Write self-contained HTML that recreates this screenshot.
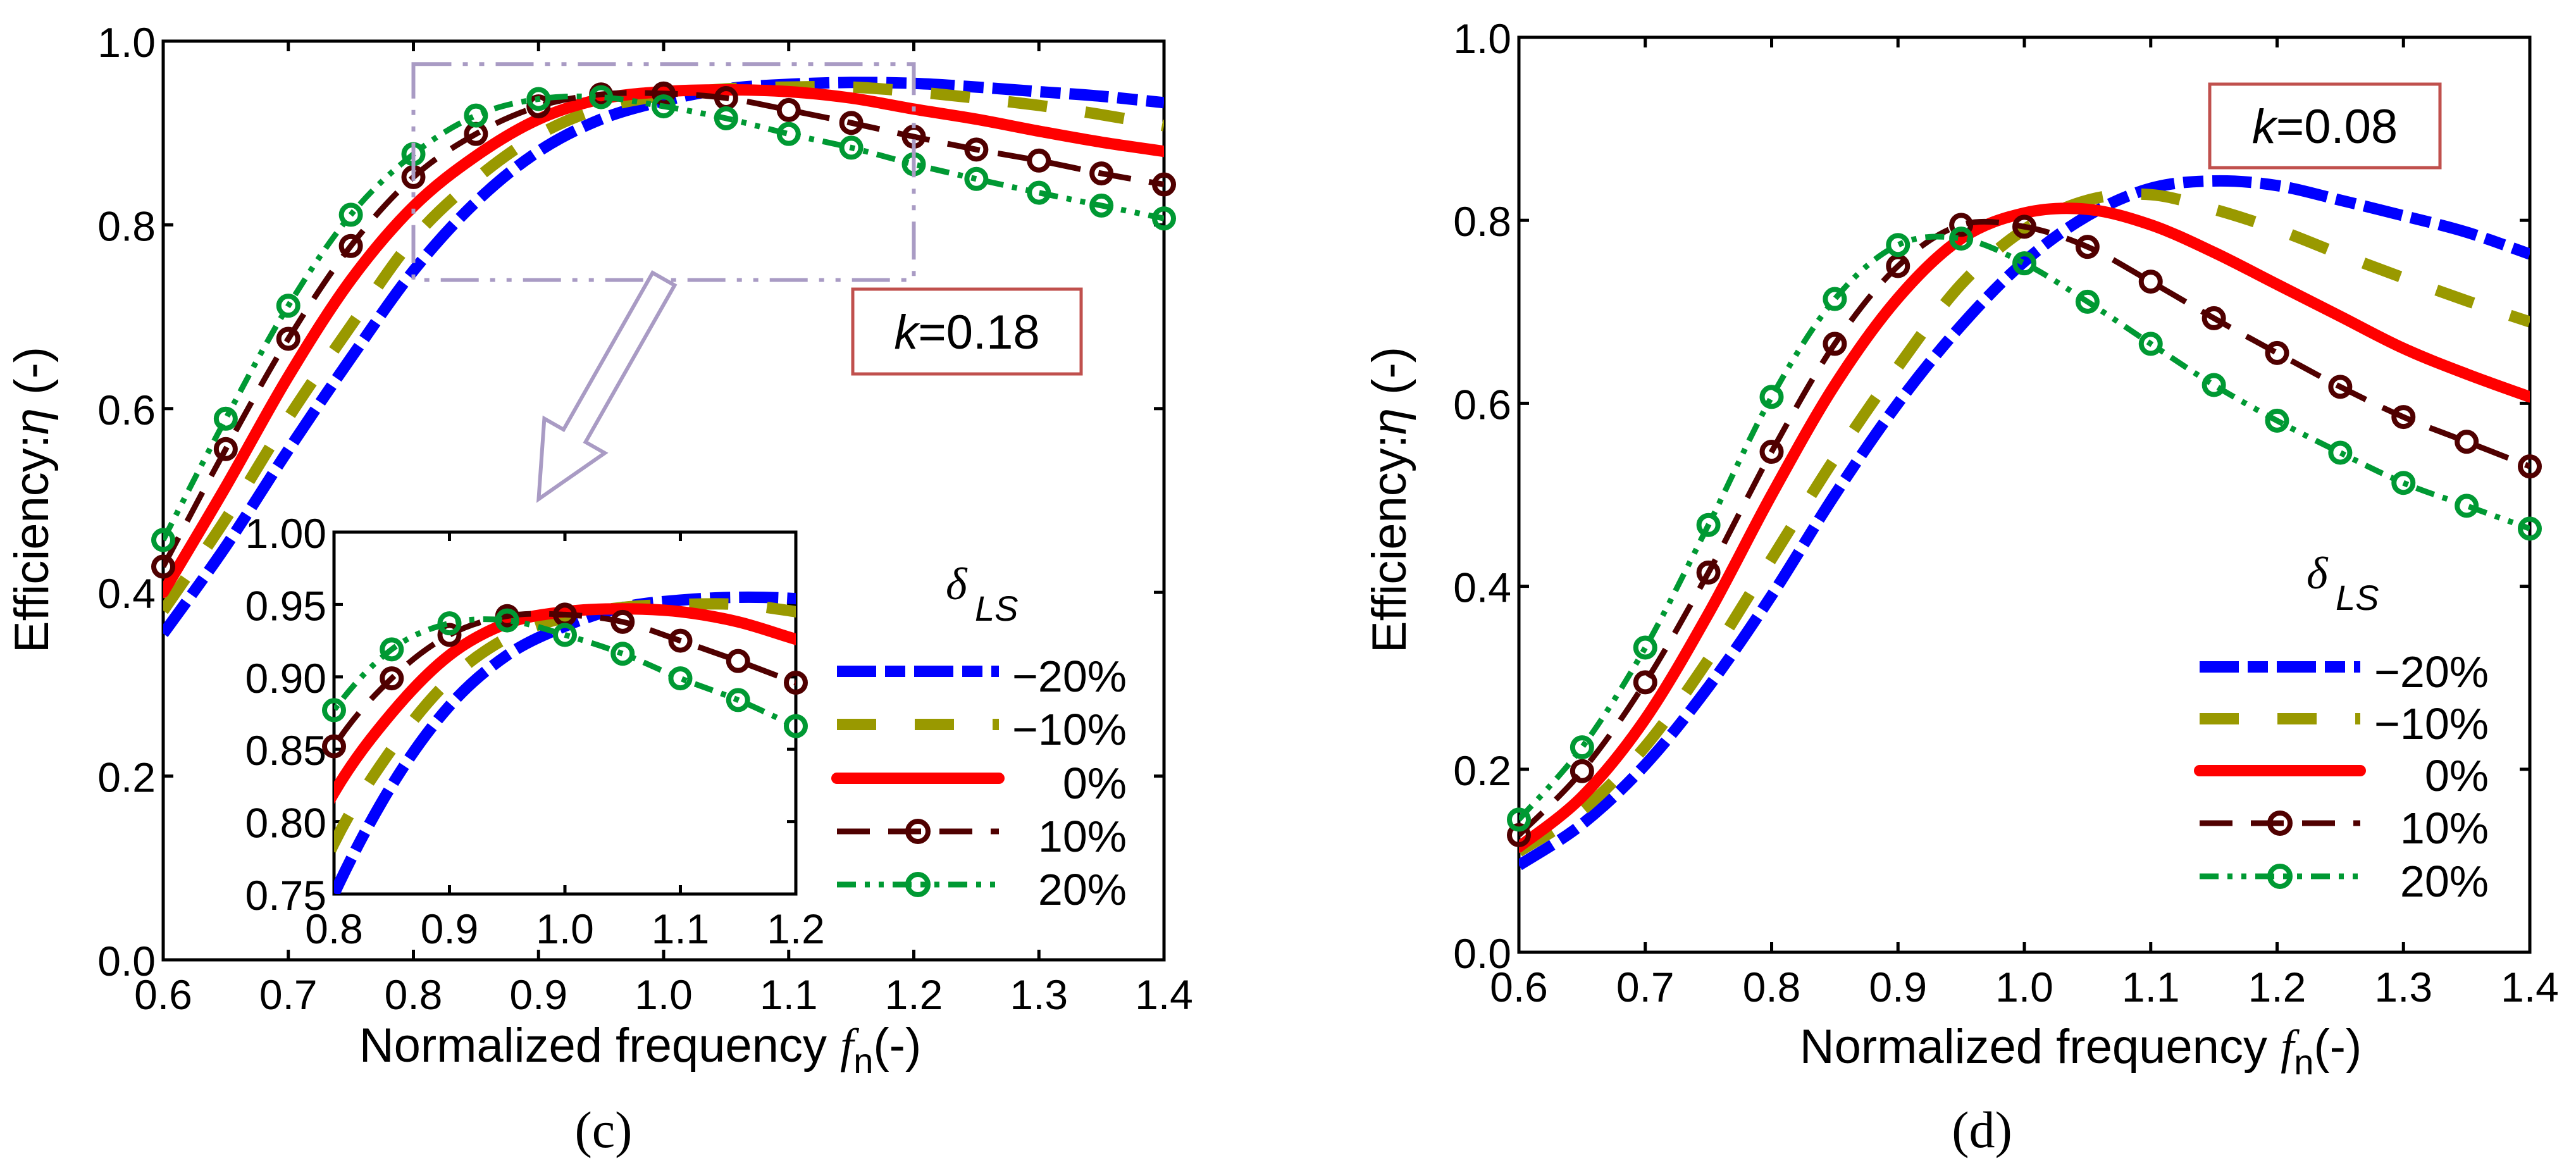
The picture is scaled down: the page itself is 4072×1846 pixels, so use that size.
<!DOCTYPE html>
<html><head><meta charset="utf-8">
<style>
html,body{margin:0;padding:0;background:#fff;width:4072px;height:1846px;overflow:hidden;}
svg{display:block;font-family:"Liberation Sans",sans-serif;}
</style></head>
<body>
<svg id="fig" width="4072" height="1846" viewBox="0 0 4072 1846" xmlns="http://www.w3.org/2000/svg">
<defs>
<clipPath id="clipInset"><rect x="528" y="841" width="730" height="572"/></clipPath>
<clipPath id="clipL"><rect x="258" y="65" width="1582" height="1452"/></clipPath>
<clipPath id="clipR"><rect x="2401" y="59" width="1598" height="1446"/></clipPath>
<clipPath id="clipLm"><rect x="200" y="0" width="1700" height="1600"/></clipPath>
<clipPath id="clipInsetm"><rect x="500" y="820" width="790" height="620"/></clipPath>
<clipPath id="clipRm"><rect x="0" y="0" width="4072" height="1846"/></clipPath>
</defs>
<g id="root"></g>
</svg>
<script>
// ---- data ----
const xVals = [0.6,0.65,0.7,0.75,0.8,0.85,0.9,0.95,1.0,1.05,1.1,1.15,1.2,1.25,1.3,1.35,1.4];
const seriesLabels = ["\u221220%","\u221210%","0%","10%","20%"];
// panel (c) k=0.18
const c_m20 = [0.355,0.45,0.555,0.655,0.75,0.825,0.88,0.915,0.935,0.948,0.953,0.955,0.954,0.95,0.945,0.94,0.933];
const c_m10 = [0.38,0.48,0.59,0.69,0.785,0.85,0.898,0.927,0.941,0.948,0.95,0.95,0.945,0.938,0.93,0.92,0.908];
const c_0   = [0.40,0.515,0.635,0.74,0.82,0.875,0.915,0.937,0.945,0.947,0.945,0.938,0.926,0.915,0.902,0.89,0.88];
const c_p10 = [0.428,0.556,0.676,0.777,0.852,0.899,0.929,0.942,0.943,0.938,0.925,0.911,0.896,0.882,0.870,0.856,0.844];
const c_p20 = [0.457,0.589,0.712,0.811,0.877,0.919,0.937,0.939,0.929,0.916,0.899,0.884,0.866,0.850,0.835,0.821,0.807];
// panel (d) k=0.08
const d_m20 = [0.095,0.14,0.205,0.29,0.39,0.50,0.60,0.685,0.755,0.805,0.835,0.843,0.838,0.822,0.805,0.787,0.763];
const d_m10 = [0.11,0.155,0.225,0.32,0.43,0.54,0.64,0.73,0.79,0.822,0.828,0.812,0.79,0.763,0.737,0.712,0.689];
const d_0   = [0.115,0.17,0.255,0.37,0.50,0.62,0.715,0.78,0.808,0.812,0.795,0.765,0.73,0.695,0.66,0.632,0.607];
const d_p10 = [0.128,0.198,0.295,0.415,0.547,0.665,0.750,0.795,0.793,0.771,0.733,0.693,0.655,0.618,0.585,0.558,0.531];
const d_p20 = [0.145,0.224,0.333,0.467,0.607,0.714,0.773,0.780,0.753,0.711,0.665,0.620,0.581,0.546,0.513,0.488,0.463];
const xTicks = [0.6,0.7,0.8,0.9,1.0,1.1,1.2,1.3,1.4];
const yTicks = [0,0.2,0.4,0.6,0.8,1.0];
const insetXTicks = [0.8,0.9,1.0,1.1,1.2];
const insetYTicks = [0.75,0.80,0.85,0.90,0.95,1.00];

const NS="http://www.w3.org/2000/svg";
const root=document.getElementById('root');
function mk(tag,attrs,parent){const e=document.createElementNS(NS,tag);for(const k in attrs)e.setAttribute(k,attrs[k]);(parent||root).appendChild(e);return e;}

const styles=[
 {color:"#0000ff",w:18,dash:"62 14 32 14",marker:false,cap:"butt"},
 {color:"#999900",w:18,dash:"62 61",marker:false,cap:"butt"},
 {color:"#ff0000",w:18,dash:"",marker:false,cap:"round"},
 {color:"#500000",w:9,dash:"52 29",marker:true,cap:"butt"},
 {color:"#009933",w:9,dash:"30 14 8 14 8 14",marker:true,cap:"butt"}
];

function smoothPath(pts){
  let d="M"+pts[0][0].toFixed(1)+","+pts[0][1].toFixed(1);
  for(let i=0;i<pts.length-1;i++){
    const p0=pts[Math.max(0,i-1)],p1=pts[i],p2=pts[i+1],p3=pts[Math.min(pts.length-1,i+2)];
    const c1x=p1[0]+(p2[0]-p0[0])/6,c1y=p1[1]+(p2[1]-p0[1])/6;
    const c2x=p2[0]-(p3[0]-p1[0])/6,c2y=p2[1]-(p3[1]-p1[1])/6;
    d+=" C"+c1x.toFixed(1)+","+c1y.toFixed(1)+" "+c2x.toFixed(1)+","+c2y.toFixed(1)+" "+p2[0].toFixed(1)+","+p2[1].toFixed(1);
  }
  return d;
}

function drawSeries(g,sx,sy,data,clip,xmin,xmax,tag){
  data.forEach((vals,si)=>{
    const st=styles[si];
    const pts=xVals.map((x,i)=>[sx(x),sy(vals[i])]);
    const p=mk('path',{d:smoothPath(pts),fill:"none",stroke:st.color,"stroke-width":st.w,"stroke-dasharray":st.dash,"stroke-linecap":st.cap,"stroke-linejoin":"round","clip-path":"url(#"+clip+")"},g);
    
    
    if(st.marker){
      xVals.forEach((x,i)=>{
        if(x<xmin-1e-9||x>xmax+1e-9)return;
        const c=mk('circle',{cx:sx(x),cy:sy(vals[i]),r:15,fill:"none",stroke:st.color,"stroke-width":8,"clip-path":"url(#"+clip+"m)"},g);
        
        
      });
    }
  });
}

function axes(g,L,T,R,B,xt,yt,xmin,xmax,ymin,ymax,xfmt,yfmt,fs,tickLen,tag){
  const sx=x=>L+(x-xmin)/(xmax-xmin)*(R-L);
  const sy=y=>B-(y-ymin)/(ymax-ymin)*(B-T);
  xt.forEach(v=>{
    const x=sx(v);
    mk('line',{x1:x,y1:B,x2:x,y2:B-tickLen,stroke:"#000","stroke-width":5},g);
    mk('line',{x1:x,y1:T,x2:x,y2:T+tickLen,stroke:"#000","stroke-width":5},g);
    const t=mk('text',{x:x,y:B+78,"font-size":fs,"text-anchor":"middle"},g);
    t.textContent=xfmt(v);
    
    
  });
  yt.forEach(v=>{
    const y=sy(v);
    mk('line',{x1:L,y1:y,x2:L+tickLen,y2:y,stroke:"#000","stroke-width":5},g);
    mk('line',{x1:R,y1:y,x2:R-tickLen,y2:y,stroke:"#000","stroke-width":5},g);
    const t=mk('text',{x:L-12,y:y+25,"font-size":fs,"text-anchor":"end"},g);
    t.textContent=yfmt(v);
    
    
  });
  const r=mk('rect',{x:L,y:T,width:R-L,height:B-T,fill:"none",stroke:"#000","stroke-width":5},g);
  
  
  return {sx,sy};
}

function legend(g,x1,x2,rows,labelRight,deltaX,deltaY,tag){
  const d=mk('text',{x:deltaX,y:deltaY,"font-size":72,"font-family":"Liberation Serif, serif","font-style":"italic"},g);
  d.textContent="\u03b4";
  
  
  const s=mk('text',{x:deltaX+46,y:deltaY+34,"font-size":56,"font-style":"italic"},g);
  s.textContent="LS";
  styles.forEach((st,i)=>{
    const y=rows[i];
    const ent=mk('g',{},g);
    
    
    mk('line',{x1:x1,y1:y,x2:x2,y2:y,stroke:st.color,"stroke-width":st.w,"stroke-dasharray":st.dash,"stroke-linecap":st.cap},ent);
    if(st.marker) mk('circle',{cx:(x1+x2)/2,cy:y,r:16,fill:"none",stroke:st.color,"stroke-width":8},ent);
    const t=mk('text',{x:labelRight,y:y+32,"font-size":70,"text-anchor":"end"},ent);
    t.textContent=seriesLabels[i];
  });
}

function kbox(g,x,y,w,h,val,tag){
  const r=mk('rect',{x:x,y:y,width:w,height:h,fill:"#fff",stroke:"#c0504d","stroke-width":5},g);
  
  
  const t=mk('text',{x:x+w/2,y:y+h/2+27,"font-size":76,"text-anchor":"middle"},g);
  const k=mk('tspan',{"font-style":"italic"},t);k.textContent="k";
  const v=mk('tspan',{},t);v.textContent="="+val;
}

function labels(g,yx,yy,xx,xy,cap,capx,tag){
  const yl=mk('text',{x:yx,y:yy,"font-size":76,"text-anchor":"middle",transform:"rotate(-90 "+yx+" "+yy+")"},g);
  
  
  const a=mk('tspan',{},yl);a.textContent="Efficiency:";
  const b=mk('tspan',{"font-style":"italic"},yl);b.textContent="\u03b7";
  const c=mk('tspan',{},yl);c.textContent=" (-)";
  const xl=mk('text',{x:xx,y:xy,"font-size":76,"text-anchor":"middle"},g);
  
  
  const p=mk('tspan',{},xl);p.textContent="Normalized frequency ";
  const f=mk('tspan',{"font-style":"italic","font-family":"Liberation Serif, serif"},xl);f.textContent=" f";
  const n=mk('tspan',{dy:18,"font-size":56},xl);n.textContent="n";
  const q=mk('tspan',{dy:-18},xl);q.textContent="(-)";
  const cp=mk('text',{x:capx,y:1813,"font-size":82,"text-anchor":"middle","font-family":"Liberation Serif, serif"},g);
  cp.textContent=cap;
  
  
}

const f1=v=>v.toFixed(1), f2=v=>v.toFixed(2);

// ===== Panel (c) =====
const gc=mk('g',{});


const A=axes(gc,258,65,1840,1517,xTicks,yTicks,0.6,1.4,0,1,f1,f1,66,16,'c');
drawSeries(gc,A.sx,A.sy,[c_m20,c_m10,c_0,c_p10,c_p20],"clipL",0.6,1.4,'c');
const zr=mk('rect',{x:A.sx(0.8),y:A.sy(0.975),width:A.sx(1.2)-A.sx(0.8),height:A.sy(0.74)-A.sy(0.975),fill:"none",stroke:"#a99bc4","stroke-width":6,"stroke-dasharray":"60 18 8 18 8 18"},gc);


const ar=mk('polygon',{points:"0,-20 285,-20 285,-55 400,0 285,55 285,20 0,20",fill:"#fff",stroke:"#a99bc4","stroke-width":6,transform:"translate(1049,441) rotate(119.6)"},gc);


kbox(gc,1348,457,361,134,"0.18",'c');
const gi=mk('g',{},gc);


mk('rect',{x:528,y:841,width:730,height:572,fill:"#fff"},gi);
const Ii=axes(gi,528,841,1258,1413,insetXTicks,insetYTicks,0.8,1.2,0.75,1.0,f1,f2,66,14,'inset');
drawSeries(gi,Ii.sx,Ii.sy,[c_m20,c_m10,c_0,c_p10,c_p20],"clipInset",0.8,1.2,'inset');
legend(gc,1323,1579,[1061,1145,1230,1314,1398],1781,1495,947,'c');
labels(gc,76,790,1012,1678,"(c)",954,'c');

// ===== Panel (d) =====
const gd=mk('g',{});


const B=axes(gd,2401,59,3999,1505,xTicks,yTicks,0.6,1.4,0,1,f1,f1,66,16,'d');
drawSeries(gd,B.sx,B.sy,[d_m20,d_m10,d_0,d_p10,d_p20],"clipR",0.6,1.4,'d');
kbox(gd,3493,133,364,132,"0.08",'d');
legend(gd,3477,3731,[1054,1136,1218,1301,1385],3934,3646,930,'d');
labels(gd,2222,790,3289,1680,"(d)",3133,'d');
</script>
</body></html>
